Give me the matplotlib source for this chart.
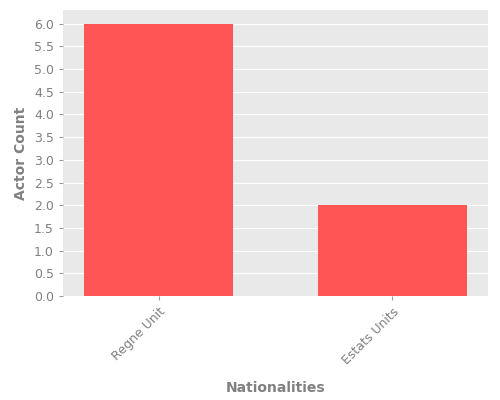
import matplotlib
matplotlib.use('Agg')
import matplotlib.pyplot as plt

nationalities = ['Regne Unit', 'Estats Units']
counts = [6, 2]

fig = plt.figure(figsize=(5, 4), dpi=100)
ax = fig.add_axes([0.126, 0.26, 0.85, 0.715])
ax.set_facecolor('#e9e9e9')
ax.bar(range(len(nationalities)), counts, width=0.64, color='#ff5555', zorder=2)
ax.set_xlim(-0.41, 1.41)
ax.set_ylim(0, 6.3)
ax.set_yticks([i * 0.5 for i in range(13)])
ax.set_xticks(range(len(nationalities)))
ax.set_xticklabels(nationalities, rotation=45, ha='right', rotation_mode='anchor')
ax.yaxis.grid(True, color='white', linewidth=0.8, zorder=1)
ax.set_axisbelow(True)
for s in ax.spines.values():
    s.set_visible(False)
ax.tick_params(colors='#999999', labelcolor='#808080', labelsize=9, length=3)
ax.set_xlabel('Nationalities', fontsize=10, fontweight='bold', color='#808080', labelpad=10)
ax.set_ylabel('Actor Count', fontsize=10, fontweight='bold', color='#808080', labelpad=4)
fig.savefig('out.png')
